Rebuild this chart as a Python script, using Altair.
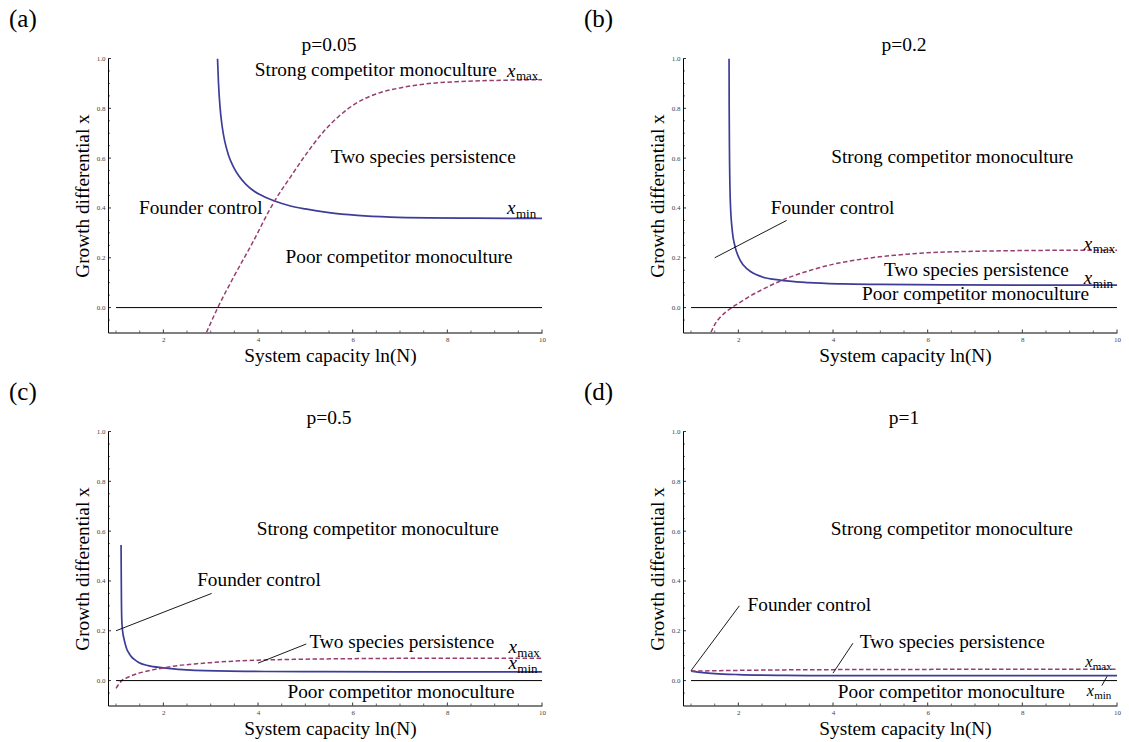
import altair as alt
import pandas as pd

FONT = "Liberation Serif"
BLUE = "#3d3d99"
PURPLE = "#993d71"

# plot-area size of each panel
W, H = 434, 274
X_DOMAIN = [0.83, 10]
Y_DOMAIN = [-0.1, 1.0]

# axis ticks
X_TICK_LABELS = [2, 4, 6, 8, 10]
Y_TICK_LABELS = [0.0, 0.2, 0.4, 0.6, 0.8, 1.0]
X_MINOR = [1, 1.5, 2.5, 3, 3.5, 4.5, 5, 5.5, 6.5, 7, 7.5, 8.5, 9, 9.5]
Y_MINOR = [-0.05, 0.05, 0.1, 0.15, 0.25, 0.3, 0.35, 0.45, 0.5, 0.55,
           0.65, 0.7, 0.75, 0.85, 0.9, 0.95]
ZERO_LINE = (1, 10)

# ---- p = 0.05 ----
A_MIN_X = [3.144, 3.165, 3.195, 3.24, 3.30, 3.38, 3.48, 3.60, 3.75, 3.92,
           4.12, 4.35, 4.65, 5.0, 5.5, 6.1, 6.8, 7.6, 8.6, 10.0]
A_MIN_Y = [1.0, 0.9, 0.81, 0.73, 0.665, 0.61, 0.565, 0.527, 0.494, 0.467,
           0.446, 0.428, 0.41, 0.396, 0.381, 0.37, 0.363, 0.36, 0.359, 0.358]
A_MAX_X = [2.91, 3.15, 3.5, 3.86, 4.35, 4.67, 5.02, 5.37, 5.72, 6.07,
           6.5, 7.0, 7.5, 8.2, 9.0, 10.0]
A_MAX_Y = [-0.10, 0.0, 0.128, 0.252, 0.428, 0.52, 0.617, 0.703, 0.77, 0.82,
           0.858, 0.882, 0.897, 0.907, 0.912, 0.915]

# ---- p = 0.2 ----
B_MIN_X = [1.803, 1.806, 1.812, 1.83, 1.873, 1.93, 2.036, 2.212, 2.494,
           2.848, 3.485, 4.2, 5.0, 6.5, 8.0, 10.0]
B_MIN_Y = [1.0, 0.8, 0.626, 0.425, 0.305, 0.245, 0.191, 0.151, 0.124,
           0.111, 0.100, 0.095, 0.093, 0.091, 0.090, 0.090]
B_MAX_X = [1.42, 1.5, 1.6, 1.72, 1.86, 2.0, 2.21, 2.5, 2.9, 3.49, 4.05,
           4.7, 5.3, 6.0, 7.0, 8.0, 9.0, 10.0]
B_MAX_Y = [-0.10, -0.068, -0.042, -0.02, 0.0, 0.017, 0.042, 0.072, 0.108,
           0.148, 0.176, 0.197, 0.21, 0.22, 0.226, 0.229, 0.23, 0.23]

# ---- p = 0.5 ----
C_MIN_X = [1.106, 1.110, 1.114, 1.120, 1.130, 1.145, 1.165, 1.19, 1.226,
           1.28, 1.332, 1.40, 1.47, 1.68, 2.0, 2.666, 3.72, 5.0, 7.0, 10.0]
C_MIN_Y = [0.544, 0.42, 0.32, 0.25, 0.215, 0.19, 0.17, 0.15, 0.127,
           0.108, 0.094, 0.083, 0.074, 0.060, 0.051, 0.041, 0.037, 0.036,
           0.035, 0.035]
C_MAX_X = [1.0, 1.06, 1.12, 1.2, 1.332, 1.47, 1.612, 1.8, 2.0, 2.3, 2.666,
           3.0, 3.37, 4.0, 5.0, 6.0, 8.0, 10.0]
C_MAX_Y = [-0.031, -0.014, 0.0, 0.009, 0.02, 0.029, 0.036, 0.044, 0.051,
           0.06, 0.067, 0.072, 0.077, 0.082, 0.086, 0.088, 0.09, 0.09]

# ---- p = 1 ----
D_MIN_X = [1.0, 1.25, 1.5, 2.0, 3.0, 4.0, 6.0, 8.0, 10.0]
D_MIN_Y = [0.038, 0.032, 0.028, 0.024, 0.021, 0.02, 0.02, 0.02, 0.02]
D_MAX_X = [1.0, 2.0, 3.0, 4.0, 6.0, 8.0, 10.0]
D_MAX_Y = [0.038, 0.041, 0.043, 0.044, 0.045, 0.046, 0.046]

REGIONS = ["Strong competitor monoculture", "Two species persistence",
           "Founder control", "Poor competitor monoculture"]
A_REG_X = [6.49, 7.49, 2.79, 6.98]
A_REG_Y = [0.928, 0.579, 0.376, 0.18]
B_REG_X = [6.52, 7.03, 3.99, 7.01]
B_REG_Y = [0.582, 0.128, 0.376, 0.031]
C_REG_X = [6.53, 7.04, 4.02, 7.02]
C_REG_Y = [0.584, 0.130, 0.379, -0.071]
D_REG_X = [6.51, 6.52, 3.50, 6.50]
D_REG_Y = [0.584, 0.130, 0.280, -0.071]

# curve labels x_max / x_min: left edge of the "x" and its baseline
SUBS = ["max", "min"]
A_SUB_X, A_SUB_Y = [9.26, 9.26], [0.927, 0.375]
B_SUB_X, B_SUB_Y = [9.30, 9.30], [0.233, 0.093]
C_SUB_X, C_SUB_Y = [9.29, 9.29], [0.111, 0.047]
D_SUB_X, D_SUB_Y = [9.33, 9.36], [0.054, -0.06]

# pointer lines (x, y, x2, y2)
B_LEAD = [(1.5, 0.2, 3.02, 0.35)]
C_LEAD = [(1.0, 0.2, 3.02, 0.35), (4.0, 0.07, 5.02, 0.147)]
D_LEAD = [(1.0, 0.04, 2.02, 0.30), (4.0, 0.03, 4.42, 0.15),
          (9.68, -0.02, 9.79, 0.017)]

TITLES = ["p=0.05", "p=0.2", "p=0.5", "p=1"]
TAGS = ["(a)", "(b)", "(c)", "(d)"]

xs = alt.Scale(domain=X_DOMAIN, nice=False, zero=False)
ys = alt.Scale(domain=Y_DOMAIN, nice=False, zero=False)

X_AXIS = alt.Axis(
    values=X_TICK_LABELS, format="d", ticks=False, tickSize=0, grid=False,
    domainColor="black", domainWidth=1, labelFont=FONT, labelFontSize=7,
    labelColor="#444", labelPadding=3, labelFlush=False, labelOverlap=False,
    title="System capacity ln(N)", titleFont=FONT, titleFontSize=19.3,
    titleFontWeight="normal", titleColor="black", titleX=222, titleY=28.5,
    titleBaseline="alphabetic", titleAlign="center",
)
Y_AXIS = alt.Axis(
    values=Y_TICK_LABELS, format=".1f", ticks=False, tickSize=0, grid=False,
    domainColor="black", domainWidth=1, labelFont=FONT, labelFontSize=7,
    labelColor="#444", labelPadding=3, labelFlush=False, labelOverlap=False,
    title="Growth differential x", titleFont=FONT, titleFontSize=19.3,
    titleFontWeight="normal", titleColor="black", titleAngle=270,
    titleX=-20, titleY=H / 2, titleBaseline="alphabetic", titleAlign="center",
)


def qx(field):
    return alt.X(field, type="quantitative", scale=xs, axis=X_AXIS)


def qy(field):
    return alt.Y(field, type="quantitative", scale=ys, axis=Y_AXIS)


def panel(i, min_x, min_y, max_x, max_y, reg_x, reg_y, sub_x, sub_y, leads,
          x_size=19, sub_size=13):
    layers = []
    # x_min boundary (solid)
    layers.append(
        alt.Chart(pd.DataFrame({"x": min_x, "y": min_y}))
        .mark_line(color=BLUE, strokeWidth=1.7, interpolate="monotone", clip=True)
        .encode(x=qx("x"), y=qy("y"))
    )
    # x_max boundary (dashed)
    layers.append(
        alt.Chart(pd.DataFrame({"x": max_x, "y": max_y}))
        .mark_line(color=PURPLE, strokeWidth=1.5, strokeDash=[4.5, 2.5],
                   interpolate="monotone", clip=True)
        .encode(x=qx("x"), y=qy("y"))
    )
    # zero line
    layers.append(
        alt.Chart(pd.DataFrame({"x": [ZERO_LINE[0]], "x2": [ZERO_LINE[1]], "y": [0.0]}))
        .mark_rule(color="black", strokeWidth=1)
        .encode(x=qx("x"), x2="x2:Q", y=qy("y"))
    )
    # pointer lines
    if leads:
        ld = pd.DataFrame(leads, columns=["x", "y", "x2", "y2"])
        layers.append(
            alt.Chart(ld).mark_rule(color="black", strokeWidth=0.9)
            .encode(x=qx("x"), y=qy("y"), x2="x2:Q", y2="y2:Q")
        )
    # inward tick marks
    layers.append(
        alt.Chart(pd.DataFrame({"v": Y_TICK_LABELS})).mark_rule(color="black", strokeWidth=0.8)
        .encode(y=qy("v"), x=alt.value(0), x2=alt.value(3))
    )
    layers.append(
        alt.Chart(pd.DataFrame({"v": Y_MINOR})).mark_rule(color="black", strokeWidth=0.6)
        .encode(y=qy("v"), x=alt.value(0), x2=alt.value(2))
    )
    layers.append(
        alt.Chart(pd.DataFrame({"v": X_TICK_LABELS})).mark_rule(color="black", strokeWidth=0.8)
        .encode(x=qx("v"), y=alt.value(H), y2=alt.value(H - 3))
    )
    layers.append(
        alt.Chart(pd.DataFrame({"v": X_MINOR})).mark_rule(color="black", strokeWidth=0.6)
        .encode(x=qx("v"), y=alt.value(H), y2=alt.value(H - 2))
    )
    # region names
    layers.append(
        alt.Chart(pd.DataFrame({"x": reg_x, "y": reg_y, "t": REGIONS}))
        .mark_text(font=FONT, fontSize=19.3, color="black", align="center",
                   baseline="alphabetic")
        .encode(x=qx("x"), y=qy("y"), text="t:N")
    )
    # curve names x_max / x_min
    sd = pd.DataFrame({"x": sub_x, "y": sub_y, "s": SUBS, "v": ["x", "x"]})
    layers.append(
        alt.Chart(sd).mark_text(font=FONT, fontSize=x_size, fontStyle="italic",
                                color="black", align="left", baseline="alphabetic")
        .encode(x=qx("x"), y=qy("y"), text="v:N")
    )
    layers.append(
        alt.Chart(sd).mark_text(font=FONT, fontSize=sub_size, color="black",
                                align="left", baseline="alphabetic",
                                dx=x_size * 0.47, dy=x_size * 0.2)
        .encode(x=qx("x"), y=qy("y"), text="s:N")
    )
    # panel title and tag
    layers.append(
        alt.Chart(pd.DataFrame({"t": [TITLES[i]]}))
        .mark_text(font=FONT, fontSize=19.5, color="black", align="center",
                   baseline="alphabetic")
        .encode(x=alt.value(221), y=alt.value(-7.4), text="t:N")
    )
    layers.append(
        alt.Chart(pd.DataFrame({"t": [TAGS[i]]}))
        .mark_text(font=FONT, fontSize=25, color="black", align="left",
                   baseline="alphabetic")
        .encode(x=alt.value(-99), y=alt.value(-31.5), text="t:N")
    )
    return alt.layer(*layers).properties(width=W, height=H)


pa = panel(0, A_MIN_X, A_MIN_Y, A_MAX_X, A_MAX_Y, A_REG_X, A_REG_Y, A_SUB_X, A_SUB_Y, [])
pb = panel(1, B_MIN_X, B_MIN_Y, B_MAX_X, B_MAX_Y, B_REG_X, B_REG_Y, B_SUB_X, B_SUB_Y, B_LEAD)
pc = panel(2, C_MIN_X, C_MIN_Y, C_MAX_X, C_MAX_Y, C_REG_X, C_REG_Y, C_SUB_X, C_SUB_Y, C_LEAD)
pd_ = panel(3, D_MIN_X, D_MIN_Y, D_MAX_X, D_MAX_Y, D_REG_X, D_REG_Y, D_SUB_X, D_SUB_Y, D_LEAD,
            x_size=16, sub_size=11)

chart = (
    alt.concat(pa, pb, pc, pd_, columns=2, spacing={"row": 99, "column": 141},
               bounds="flush")
    .properties(padding={"left": 9, "top": 6.5, "right": 5, "bottom": 5},
                background="white")
    .configure_view(stroke=None)
)

chart.save("out.html", embed_options={"renderer": "svg", "actions": False})
